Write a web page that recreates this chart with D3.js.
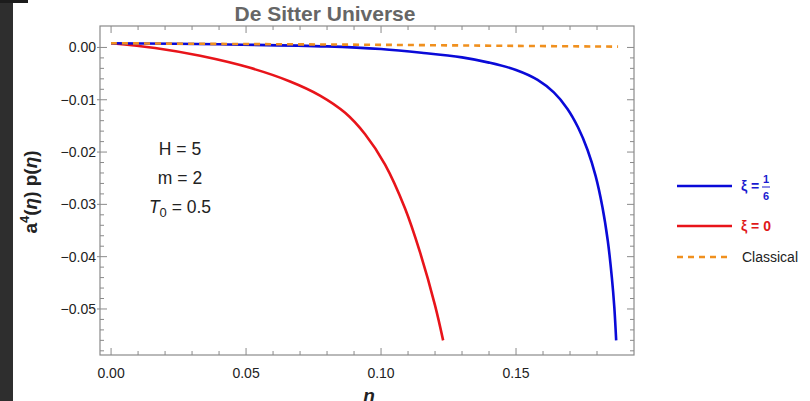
<!DOCTYPE html>
<html>
<script src="https://d3js.org/d3.v7.min.js"></script>
<style>
    body { margin: 0; background: #fff; }
    svg { display: block; font-family: "Liberation Sans", Arial, sans-serif; }
    .tick-label { font-size: 14px; fill: #222; }
</style>
<body>
<svg width="810" height="401"></svg>
<script>
    // values
    const etaRed = [0, 0.0163, 0.033, 0.0515, 0.0663, 0.0774, 0.0867, 0.0941, 0.1015, 0.1089, 0.1144, 0.12, 0.123];
    const valRed = [0.0008, -0.0001, -0.0016, -0.0039, -0.0065, -0.0092, -0.0125, -0.0166, -0.0224, -0.0308, -0.0391, -0.0493, -0.0560];

    const etaBlue = [0, 0.04, 0.08, 0.1, 0.115, 0.13, 0.14, 0.15, 0.158, 0.164, 0.169, 0.173, 0.1765, 0.1795, 0.182, 0.184, 0.1855, 0.1864, 0.1871];
    const valBlue = [0.0008, 0.0006, 0.0002, -0.0003, -0.0010, -0.0019, -0.0029, -0.0043, -0.0062, -0.0086, -0.0117, -0.0153, -0.0196, -0.0246, -0.0305, -0.0370, -0.0440, -0.0496, -0.0560];

    const etaClassical = [0, 0.05, 0.1, 0.15, 0.1878];
    const valClassical = [0.0008, 0.00065, 0.0005, 0.0003, 0.00015];

    const xTicks = [0, 0.05, 0.10, 0.15];
    const yTicks = [0, -0.01, -0.02, -0.03, -0.04, -0.05];

    const svg = d3.select('svg');

    // dark strip on the left edge of the screenshot
    svg.append('rect').attr('x', 0).attr('y', 0).attr('width', 13).attr('height', 401).attr('fill', '#2e2e2e');
    svg.append('rect').attr('x', 0).attr('y', 0).attr('width', 28).attr('height', 3).attr('fill', '#1c1c1c');

    const pLeft = 100, pRight = 634, pTop = 26, pBottom = 355;

    const x = d3.scaleLinear().domain([-0.0041, 0.1937]).range([pLeft, pRight]);
    const y = d3.scaleLinear().domain([0.0041, -0.0588]).range([pTop, pBottom]);

    const frameColor = '#8a8a8a';

    // frame
    svg.append('rect')
        .attr('x', pLeft).attr('y', pTop)
        .attr('width', pRight - pLeft).attr('height', pBottom - pTop)
        .attr('fill', 'none').attr('stroke', frameColor).attr('stroke-width', 1.2);

    // ticks on all four sides
    const xMinor = d3.range(0, 0.19, 0.01);
    const yMinor = d3.range(0, -0.0585, -0.002);
    const isMajorX = v => xTicks.some(t => Math.abs(t - v) < 1e-6);
    const isMajorY = v => yTicks.some(t => Math.abs(t - v) < 1e-6);

    const ticks = svg.append('g').attr('stroke', frameColor).attr('stroke-width', 1);
    xMinor.forEach(function (v) {
        const len = isMajorX(v) ? 7 : 4;
        ticks.append('line').attr('x1', x(v)).attr('x2', x(v)).attr('y1', pBottom).attr('y2', pBottom - len);
        ticks.append('line').attr('x1', x(v)).attr('x2', x(v)).attr('y1', pTop).attr('y2', pTop + len);
    });
    yMinor.forEach(function (v) {
        const major = isMajorY(v);
        const len = major ? 7 : 4;
        ticks.append('line').attr('x1', pLeft - (major ? 3 : 0)).attr('x2', pLeft + len).attr('y1', y(v)).attr('y2', y(v));
        ticks.append('line').attr('x1', pRight).attr('x2', pRight - len).attr('y1', y(v)).attr('y2', y(v));
    });

    // tick labels
    svg.append('g').selectAll('text').data(xTicks).enter().append('text')
        .attr('class', 'tick-label')
        .attr('x', d => x(d)).attr('y', 378)
        .attr('text-anchor', 'middle')
        .text(d => d3.format('.2f')(d));

    svg.append('g').selectAll('text').data(yTicks).enter().append('text')
        .attr('class', 'tick-label')
        .attr('x', 96).attr('y', d => y(d) + 5)
        .attr('text-anchor', 'end')
        .text(d => d === 0 ? '0.00' : '\u2212' + d3.format('.2f')(-d));

    // curves
    const line = d3.line()
        .x(d => x(d[0]))
        .y(d => y(d[1]))
        .curve(d3.curveCatmullRom.alpha(0.5));

    svg.append('path')
        .attr('d', line(d3.zip(etaRed, valRed)))
        .attr('fill', 'none').attr('stroke', '#e8141a').attr('stroke-width', 2.6);

    svg.append('path')
        .attr('d', line(d3.zip(etaBlue, valBlue)))
        .attr('fill', 'none').attr('stroke', '#0a0ad8').attr('stroke-width', 2.6);

    svg.append('path')
        .attr('d', line(d3.zip(etaClassical, valClassical)))
        .attr('fill', 'none').attr('stroke', '#f0901e').attr('stroke-width', 2.6)
        .attr('stroke-dasharray', '6,5');

    // title
    svg.append('text')
        .attr('x', 325).attr('y', 21)
        .attr('text-anchor', 'middle')
        .attr('font-size', 21).attr('font-weight', 'bold').attr('fill', '#666')
        .text('De Sitter Universe');

    // axis labels
    const yl = svg.append('text')
        .attr('transform', 'translate(37,192) rotate(-90)')
        .attr('text-anchor', 'middle')
        .attr('font-size', 19).attr('font-weight', 'bold').attr('fill', '#222');
    yl.append('tspan').text('a');
    yl.append('tspan').attr('dy', -8).attr('font-size', 13).text('4');
    yl.append('tspan').attr('dy', 8).text('(');
    yl.append('tspan').attr('font-style', 'italic').text('\u03b7');
    yl.append('tspan').text(') p(');
    yl.append('tspan').attr('font-style', 'italic').text('\u03b7');
    yl.append('tspan').text(')');

    svg.append('text')
        .attr('x', 369).attr('y', 402)
        .attr('text-anchor', 'middle')
        .attr('font-size', 19).attr('font-weight', 'bold').attr('font-style', 'italic').attr('fill', '#222')
        .text('\u03b7');

    // parameter annotations
    const ann = svg.append('g').attr('font-size', 17.5).attr('fill', '#222').attr('text-anchor', 'middle');
    ann.append('text').attr('x', 180).attr('y', 155).text('H = 5');
    ann.append('text').attr('x', 180).attr('y', 184).text('m = 2');
    const t0 = ann.append('text').attr('x', 180).attr('y', 213);
    t0.append('tspan').attr('font-style', 'italic').text('T');
    t0.append('tspan').attr('dy', 4).attr('font-size', 13).text('0');
    t0.append('tspan').attr('dy', -4).text(' = 0.5');

    // legend
    const lg = svg.append('g');
    lg.append('line').attr('x1', 677).attr('x2', 732).attr('y1', 186).attr('y2', 186)
        .attr('stroke', '#0a0ad8').attr('stroke-width', 2.6);
    lg.append('text').attr('x', 741).attr('y', 191)
        .attr('font-size', 14).attr('font-weight', 'bold').attr('fill', '#1a1ad0').text('\u03be =');
    lg.append('text').attr('x', 766).attr('y', 183).attr('text-anchor', 'middle')
        .attr('font-size', 11).attr('font-weight', 'bold').attr('fill', '#1a1ad0').text('1');
    lg.append('line').attr('x1', 762).attr('x2', 770).attr('y1', 187).attr('y2', 187)
        .attr('stroke', '#1a1ad0').attr('stroke-width', 1);
    lg.append('text').attr('x', 766).attr('y', 200).attr('text-anchor', 'middle')
        .attr('font-size', 11).attr('font-weight', 'bold').attr('fill', '#1a1ad0').text('6');

    lg.append('line').attr('x1', 677).attr('x2', 732).attr('y1', 226).attr('y2', 226)
        .attr('stroke', '#e8141a').attr('stroke-width', 2.6);
    lg.append('text').attr('x', 741).attr('y', 231)
        .attr('font-size', 14).attr('font-weight', 'bold').attr('fill', '#e01818').text('\u03be = 0');

    lg.append('line').attr('x1', 677).attr('x2', 730).attr('y1', 257).attr('y2', 257)
        .attr('stroke', '#f0901e').attr('stroke-width', 2.6).attr('stroke-dasharray', '6,5');
    lg.append('text').attr('x', 742).attr('y', 262)
        .attr('font-size', 14).attr('fill', '#222').text('Classical');
</script>
</body>
</html>
